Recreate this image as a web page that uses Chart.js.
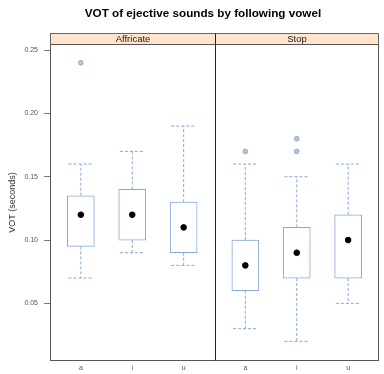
<!DOCTYPE html>
<html>
<head>
<meta charset="utf-8">
<script src="https://cdn.jsdelivr.net/npm/chart.js@4.4.1/dist/chart.umd.min.js"></script>
<style>
  html, body { margin: 0; padding: 0; background: #fff; }
  #wrap { width: 384px; height: 374px; }
</style>
</head>
<body>
<div id="wrap"><canvas id="chart" width="384" height="374"></canvas></div>
<script>
// panels and categories
const groups = ['Affricate', 'Stop'];
const vowels = ['a', 'i', 'u'];
const yTicks = [0.05, 0.10, 0.15, 0.20, 0.25];
const chartTitle = 'VOT of ejective sounds by following vowel';

// box stats (seconds)
const affLow  = [0.07, 0.09, 0.08];
const affQ1   = [0.095, 0.10, 0.09];
const affMed  = [0.12, 0.12, 0.11];
const affQ3   = [0.135, 0.14, 0.13];
const affHigh = [0.16, 0.17, 0.19];
const affOut  = [[0.24], [], []];

const stopLow  = [0.03, 0.02, 0.05];
const stopQ1   = [0.06, 0.07, 0.07];
const stopMed  = [0.08, 0.09, 0.10];
const stopQ3   = [0.10, 0.11, 0.12];
const stopHigh = [0.16, 0.15, 0.16];
const stopOut  = [[0.17], [0.18, 0.17], []];

const stats = [
  { low: affLow, q1: affQ1, med: affMed, q3: affQ3, high: affHigh, out: affOut },
  { low: stopLow, q1: stopQ1, med: stopMed, q3: stopQ3, high: stopHigh, out: stopOut },
];

const panelSpan = 3.2;   // each panel runs 0.4 .. 3.6 in category units
const capHalf = 0.24;
const boxColor = '#86a8db';
const fontFam = '"Liberation Sans", Arial, sans-serif';

function posOf(g, v) {
  return g * panelSpan + v + 1;
}

const boxes = [], whiskers = [], medians = [], outliers = [], tickPos = [], tickLab = [];
stats.forEach((s, g) => {
  vowels.forEach((name, v) => {
    const x = posOf(g, v);
    tickPos.push(x);
    tickLab.push(name);
    boxes.push({ x: x, y: [s.q1[v], s.q3[v]] });
    medians.push({ x: x, y: s.med[v] });
    s.out[v].forEach(o => outliers.push({ x: x, y: o }));
    // upper whisker + cap
    whiskers.push({ x: x, y: s.q3[v] }, { x: x, y: s.high[v] }, { x: x, y: null });
    whiskers.push({ x: x - capHalf, y: s.high[v] }, { x: x + capHalf, y: s.high[v] }, { x: x, y: null });
    // lower whisker + cap
    whiskers.push({ x: x, y: s.q1[v] }, { x: x, y: s.low[v] }, { x: x, y: null });
    whiskers.push({ x: x - capHalf, y: s.low[v] }, { x: x + capHalf, y: s.low[v] }, { x: x, y: null });
  });
});

const panelFrame = {
  id: 'panelFrame',
  afterDraw(chart) {
    const ctx = chart.ctx;
    const a = chart.chartArea;
    const xs = chart.scales.x;
    const mid = Math.round(xs.getPixelForValue(panelSpan + 0.4)) + 0.5;
    const left = Math.round(a.left) + 0.5;
    const right = Math.round(a.right) - 0.5;
    const top = Math.round(a.top) + 0.5;
    const bottom = Math.round(a.bottom) - 0.5;
    const stripTop = top - 11;
    ctx.save();
    // title, centred a little right of the canvas middle like the original
    ctx.fillStyle = '#000';
    ctx.font = 'bold 11.7px ' + fontFam;
    ctx.textAlign = 'center';
    ctx.textBaseline = 'middle';
    ctx.fillText(chartTitle, 203, 14);
    // strips
    ctx.fillStyle = '#ffe5cc';
    ctx.fillRect(left, stripTop, right - left, top - stripTop);
    ctx.strokeStyle = '#666';
    ctx.lineWidth = 1;
    ctx.strokeRect(left, stripTop, mid - left, top - stripTop);
    ctx.strokeRect(mid, stripTop, right - mid, top - stripTop);
    ctx.fillStyle = '#222';
    ctx.font = '9.5px ' + fontFam;
    ctx.fillText(groups[0], (left + mid) / 2, (stripTop + top) / 2 + 0.5);
    ctx.fillText(groups[1], (mid + right) / 2, (stripTop + top) / 2 + 0.5);
    // panel borders
    ctx.strokeStyle = '#555';
    ctx.strokeRect(left, top, right - left, bottom - top);
    ctx.strokeStyle = '#222';
    ctx.beginPath();
    ctx.moveTo(mid, stripTop);
    ctx.lineTo(mid, bottom);
    ctx.stroke();
    ctx.restore();
  }
};

new Chart(document.getElementById('chart').getContext('2d'), {
  data: {
    datasets: [
      {
        type: 'scatter',
        data: medians,
        pointRadius: 2.8,
        pointBackgroundColor: '#000',
        pointBorderColor: '#000',
        order: 0,
      },
      {
        type: 'scatter',
        data: outliers,
        pointRadius: 2.3,
        pointBackgroundColor: '#bcc6da',
        pointBorderColor: '#8aa4d0',
        pointBorderWidth: 1,
        order: 1,
      },
      {
        type: 'bar',
        data: boxes,
        backgroundColor: '#ffffff',
        borderColor: boxColor,
        borderWidth: 1,
        borderSkipped: false,
        barThickness: 27,
        order: 2,
      },
      {
        type: 'line',
        data: whiskers,
        borderColor: boxColor,
        borderWidth: 1,
        borderDash: [3, 2],
        pointRadius: 0,
        spanGaps: false,
        tension: 0,
        order: 3,
      },
    ],
  },
  options: {
    responsive: false,
    animation: false,
    devicePixelRatio: 1,
    layout: { padding: { top: 44, right: 2, bottom: 0, left: 0 } },
    plugins: {
      legend: { display: false },
      tooltip: { enabled: false },
      title: { display: false },
    },
    scales: {
      x: {
        type: 'linear',
        min: 0.4,
        max: 2 * panelSpan + 0.4,
        offset: false,
        grid: { display: false, drawTicks: false, tickLength: 0 },
        border: { display: false },
        afterBuildTicks: (scale) => { scale.ticks = tickPos.map(v => ({ value: v })); },
        afterFit: (scale) => { scale.height = 13; },
        ticks: {
          autoSkip: false,
          maxRotation: 0,
          padding: 3,
          color: '#555',
          font: { family: fontFam, size: 7 },
          callback: (v) => {
            const i = tickPos.findIndex(p => Math.abs(p - v) < 1e-6);
            return i >= 0 ? tickLab[i] : '';
          },
        },
      },
      y: {
        type: 'linear',
        min: 0.0045,
        max: 0.2548,
        grid: { drawOnChartArea: false, drawTicks: true, tickLength: 6, color: '#777' },
        border: { display: false },
        afterBuildTicks: (scale) => { scale.ticks = yTicks.map(v => ({ value: v })); },
        afterFit: (scale) => { scale.width = 50; },
        ticks: {
          padding: 6,
          color: '#555',
          font: { family: fontFam, size: 7 },
          callback: (v) => v.toFixed(2),
        },
        title: {
          display: true,
          text: 'VOT (seconds)',
          color: '#333',
          font: { family: fontFam, size: 9 },
          padding: { top: 7, bottom: 0 },
        },
      },
    },
  },
  plugins: [panelFrame],
});
</script>
</body>
</html>
